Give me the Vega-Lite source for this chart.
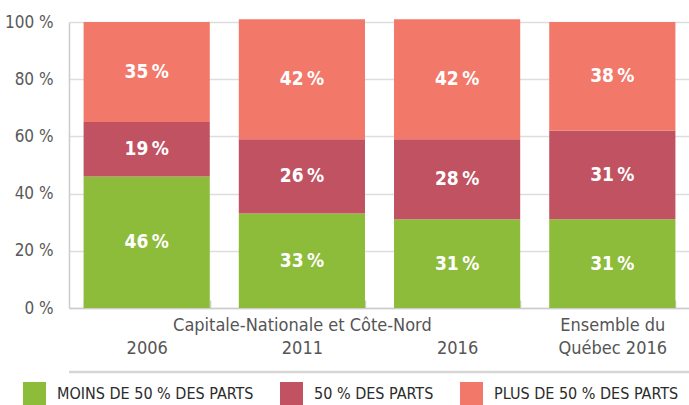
{
  "$schema": "https://vega.github.io/schema/vega-lite/v6.json",
  "width": 621,
  "height": 286,
  "autosize": {"type": "none"},
  "padding": {"left": 69, "top": 22, "right": 0, "bottom": 97},
  "config": {
    "font": "DejaVu Sans Condensed, Roboto Condensed, Arial Narrow, Roboto",
    "view": {"stroke": null}
  },
  "datasets": {
    "bars": [
      {"cat": "2006", "group": "MOINS DE 50 % DES PARTS", "k": 0, "value": 46},
      {"cat": "2006", "group": "50 % DES PARTS", "k": 1, "value": 19},
      {"cat": "2006", "group": "PLUS DE 50 % DES PARTS", "k": 2, "value": 35},
      {"cat": "2011", "group": "MOINS DE 50 % DES PARTS", "k": 0, "value": 33},
      {"cat": "2011", "group": "50 % DES PARTS", "k": 1, "value": 26},
      {"cat": "2011", "group": "PLUS DE 50 % DES PARTS", "k": 2, "value": 42},
      {"cat": "2016", "group": "MOINS DE 50 % DES PARTS", "k": 0, "value": 31},
      {"cat": "2016", "group": "50 % DES PARTS", "k": 1, "value": 28},
      {"cat": "2016", "group": "PLUS DE 50 % DES PARTS", "k": 2, "value": 42},
      {"cat": "Québec", "group": "MOINS DE 50 % DES PARTS", "k": 0, "value": 31},
      {"cat": "Québec", "group": "50 % DES PARTS", "k": 1, "value": 31},
      {"cat": "Québec", "group": "PLUS DE 50 % DES PARTS", "k": 2, "value": 38}
    ],
    "separator": [{"sep": -22.4}]
  },
  "layer": [
    {
      "data": {"name": "bars"},
      "mark": {"type": "bar"},
      "encoding": {
        "x": {
          "field": "cat",
          "type": "nominal",
          "sort": null,
          "scale": {"paddingInner": 0.187, "paddingOuter": 0.094},
          "axis": {
            "title": null,
            "labelAngle": 0,
            "labelExpr": "datum.value == '2011' ? ['Capitale-Nationale et Côte-Nord', '2011'] : datum.value == 'Québec' ? ['Ensemble du', 'Québec 2016'] : [' ', datum.value]",
            "labelLineHeight": 23,
            "labelFontSize": 18,
            "labelColor": "#555555",
            "labelLimit": 0,
            "labelOverlap": false,
            "labelBound": false,
            "labelPadding": 16,
            "labelBaseline": "top",
            "domainColor": "#cccccc",
            "domainWidth": 1.5,
            "tickBand": "extent",
            "tickColor": "#cccccc",
            "tickSize": -8,
            "tickWidth": 1.5
          }
        },
        "y": {
          "field": "value",
          "type": "quantitative",
          "stack": "zero",
          "scale": {"domain": [0, 100], "nice": false},
          "axis": {
            "title": null,
            "values": [0, 20, 40, 60, 80, 100],
            "labelExpr": "datum.value + ' %'",
            "labelFontSize": 17,
            "labelColor": "#595959",
            "labelPadding": 16,
            "ticks": false,
            "domainColor": "#cccccc",
            "domainWidth": 1.5,
            "gridColor": "#dddddd",
            "gridWidth": 1.5
          }
        },
        "order": {"field": "k", "type": "quantitative", "sort": "ascending"},
        "color": {
          "field": "group",
          "type": "nominal",
          "scale": {
            "domain": ["MOINS DE 50 % DES PARTS", "50 % DES PARTS", "PLUS DE 50 % DES PARTS"],
            "range": ["#8dbb3a", "#c05262", "#f2786a"]
          },
          "legend": {
            "title": null,
            "orient": "none",
            "legendX": -46,
            "legendY": 360,
            "direction": "horizontal",
            "symbolType": "square",
            "symbolSize": 529,
            "symbolStrokeWidth": 0,
            "symbolOpacity": 1,
            "labelFontSize": 16,
            "labelColor": "#2b2b2b",
            "labelOffset": 11,
            "columnPadding": 26,
            "labelLimit": 0,
            "padding": 0
          }
        }
      }
    },
    {
      "data": {"name": "bars"},
      "mark": {"type": "text", "color": "white", "fontSize": 19, "fontWeight": "bold", "text": {"expr": "datum.value + '\u2009%'"}},
      "encoding": {
        "x": {"field": "cat", "type": "nominal", "sort": null},
        "y": {"field": "value", "type": "quantitative", "stack": "zero", "bandPosition": 0.5},
        "order": {"field": "k", "type": "quantitative", "sort": "ascending"},
        "detail": {"field": "group"}
      }
    },
    {
      "data": {"name": "separator"},
      "mark": {"type": "rule", "color": "#d6d6d6", "strokeWidth": 2.5},
      "encoding": {
        "y": {"field": "sep", "type": "quantitative"}
      }
    }
  ]
}
